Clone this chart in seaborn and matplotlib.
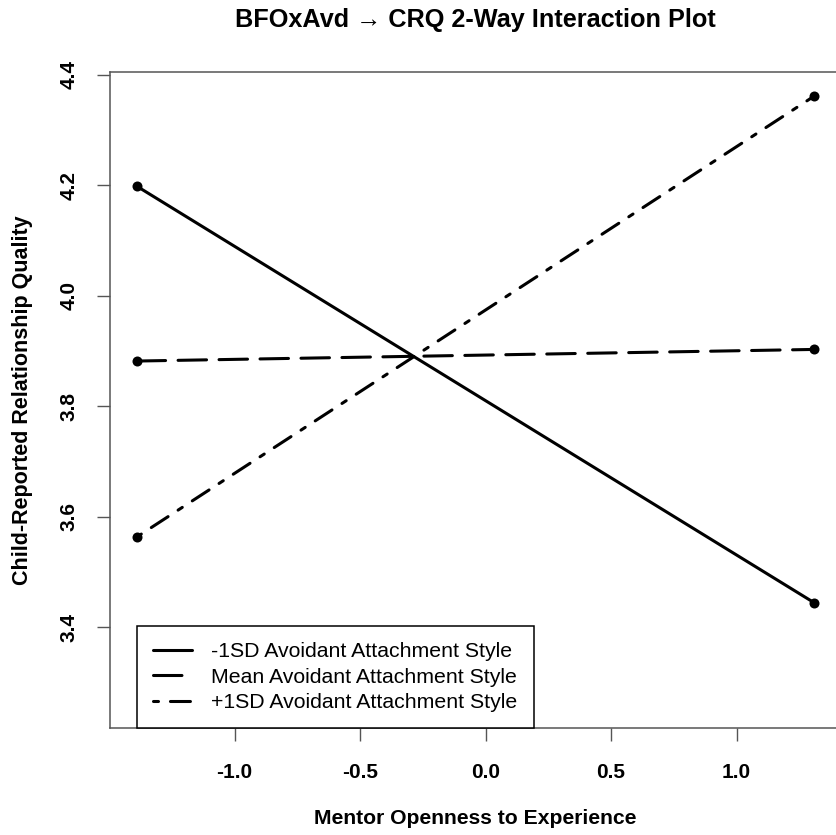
import matplotlib
matplotlib.use("Agg")
import matplotlib.pyplot as plt
import numpy as np
import pandas as pd
import seaborn as sns

# ---- data ----
x_vals = [-1.388, 1.308]
groups = ["-1SD Avoidant Attachment Style",
          "Mean Avoidant Attachment Style",
          "+1SD Avoidant Attachment Style"]
low_vals = [4.198, 3.445]
mean_vals = [3.882, 3.903]
high_vals = [3.564, 4.361]
x_ticks = [-1.0, -0.5, 0.0, 0.5, 1.0]
x_tick_labels = ["-1.0", "-0.5", "0.0", "0.5", "1.0"]
y_ticks = [3.4, 3.6, 3.8, 4.0, 4.2, 4.4]
y_tick_labels = ["3.4", "3.6", "3.8", "4.0", "4.2", "4.4"]
title = "BFOxAvd \u2192 CRQ 2-Way Interaction Plot"
x_label = "Mentor Openness to Experience"
y_label = "Child-Reported Relationship Quality"

sns.set_theme(style="white")
plt.rcParams["font.family"] = ["Liberation Sans", "DejaVu Sans"]
plt.rcParams["lines.scale_dashes"] = False
plt.rcParams["text.color"] = "black"
plt.rcParams["axes.labelcolor"] = "black"

df = pd.DataFrame({
    "x": x_vals * 3,
    "y": low_vals + mean_vals + high_vals,
    "group": [g for g in groups for _ in x_vals],
})

W, H = 836, 835
fig = plt.figure(figsize=(W / 100, H / 100), dpi=100)
ax = fig.add_axes([110 / W, 1 - 728 / H, 731 / W, 656 / H])

styles = {
    groups[0]: "-",
    groups[1]: (0, (20.5, 9.0)),
    groups[2]: (0, (3.6, 8.6, 14.4, 8.6)),
}
lines = []
for g in groups:
    sub = df[df["group"] == g]
    sns.lineplot(data=sub, x="x", y="y", ax=ax, color="black", linewidth=2.2,
                 linestyle=styles[g], dash_capstyle="round",
                 solid_capstyle="round", label=g, errorbar=None)
    lines.append(ax.get_lines()[-1])

sns.scatterplot(data=df, x="x", y="y", ax=ax, color="black", s=52,
                edgecolor="black", linewidth=0, legend=False, zorder=3)

ax.set_xlim(-1.496, 1.416)
ax.set_ylim(3.218, 4.405)
ax.set_xticks(x_ticks)
ax.set_xticklabels(x_tick_labels, fontsize=15, fontweight="bold")
ax.set_yticks(y_ticks)
ax.set_yticklabels(y_tick_labels, fontsize=15, fontweight="bold",
                   rotation=90, va="center")
ax.tick_params(axis="both", which="major", direction="out", length=9.4,
               width=1.0, color="#555555", labelcolor="black",
               bottom=True, left=True, top=False, right=False)
ax.tick_params(axis="x", pad=16)
ax.tick_params(axis="y", pad=13)
for s in ax.spines.values():
    s.set_color("#555555")
    s.set_linewidth(1.1)

ax.set_xlabel(x_label, fontsize=15.2, fontweight="bold", color="black")
ax.set_ylabel(y_label, fontsize=15.5, fontweight="bold", color="black")
ax.xaxis.set_label_coords(0.5, (728 - 818) / 656)
ax.xaxis.label.set_va("center")
ax.yaxis.set_label_coords((23 - 110) / 731, 0.5)
ax.yaxis.label.set_va("center")
ax.yaxis.label.set_ha("center")

fig.text(475.5 / W, 1 - 20 / H, title, ha="center", va="center",
         fontsize=18.2, fontweight="bold", color="black")

leg = ax.legend(handles=lines, labels=groups, loc="lower left",
                bbox_to_anchor=(27 / 731, 0), borderaxespad=0,
                frameon=True, fancybox=False, edgecolor="black",
                fontsize=15.3, handlelength=1.85, handletextpad=0.9,
                labelspacing=0.3, borderpad=0.75, framealpha=1)
leg.get_frame().set_linewidth(1.1)
for t in leg.get_texts():
    t.set_color("black")

fig.savefig("out.png", dpi=100)
